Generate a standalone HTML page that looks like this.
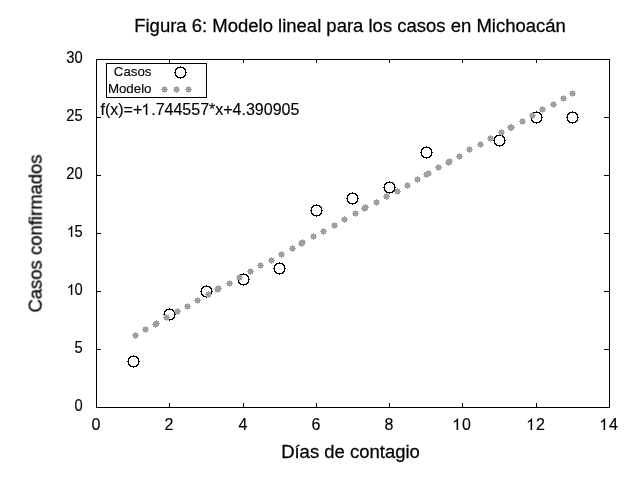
<!DOCTYPE html>
<html><head><meta charset="utf-8"><style>html,body{margin:0;padding:0;background:#fff;overflow:hidden}svg{display:block}text{-webkit-font-smoothing:antialiased}.h{fill-opacity:0;stroke-opacity:0}</style></head>
<body><svg width="640" height="480" viewBox="0 0 640 480">
<rect width="640" height="480" fill="#fff"/>
<g shape-rendering="crispEdges">
<rect x="96.5" y="59.5" width="513" height="348" fill="none" stroke="#000" stroke-width="1"/>
<path d="M96.5 407V403M96.5 59V63M169.5 407V403M169.5 59V63M243.5 407V403M243.5 59V63M316.5 407V403M316.5 59V63M389.5 407V403M389.5 59V63M462.5 407V403M462.5 59V63M536.5 407V403M536.5 59V63M609.5 407V403M609.5 59V63M96 407.5H101M609 407.5H604M96 349.5H101M609 349.5H604M96 291.5H101M609 291.5H604M96 233.5H101M609 233.5H604M96 175.5H101M609 175.5H604M96 117.5H101M609 117.5H604M96 59.5H101M609 59.5H604" stroke="#000" stroke-width="1" fill="none"/>
<rect x="106.5" y="63.5" width="100" height="34" fill="none" stroke="#000" stroke-width="1"/>
<path d="M130 356h7v1h-7zM129 357h2v1h-2zM136 357h2v1h-2zM128 358h2v1h-2zM137 358h2v1h-2zM128 364h2v1h-2zM137 364h2v1h-2zM129 365h2v1h-2zM136 365h2v1h-2zM130 366h7v1h-7zM128 359h1v1h-1zM138 359h1v1h-1zM128 360h1v1h-1zM138 360h1v1h-1zM128 361h1v1h-1zM138 361h1v1h-1zM128 362h1v1h-1zM138 362h1v1h-1zM128 363h1v1h-1zM138 363h1v1h-1zM133 355h1v1h-1zM133 367h1v1h-1zM127 361h1v1h-1zM139 361h1v1h-1zM166 309h7v1h-7zM165 310h2v1h-2zM172 310h2v1h-2zM164 311h2v1h-2zM173 311h2v1h-2zM164 317h2v1h-2zM173 317h2v1h-2zM165 318h2v1h-2zM172 318h2v1h-2zM166 319h7v1h-7zM164 312h1v1h-1zM174 312h1v1h-1zM164 313h1v1h-1zM174 313h1v1h-1zM164 314h1v1h-1zM174 314h1v1h-1zM164 315h1v1h-1zM174 315h1v1h-1zM164 316h1v1h-1zM174 316h1v1h-1zM169 308h1v1h-1zM169 320h1v1h-1zM163 314h1v1h-1zM175 314h1v1h-1zM203 286h7v1h-7zM202 287h2v1h-2zM209 287h2v1h-2zM201 288h2v1h-2zM210 288h2v1h-2zM201 294h2v1h-2zM210 294h2v1h-2zM202 295h2v1h-2zM209 295h2v1h-2zM203 296h7v1h-7zM201 289h1v1h-1zM211 289h1v1h-1zM201 290h1v1h-1zM211 290h1v1h-1zM201 291h1v1h-1zM211 291h1v1h-1zM201 292h1v1h-1zM211 292h1v1h-1zM201 293h1v1h-1zM211 293h1v1h-1zM206 285h1v1h-1zM206 297h1v1h-1zM200 291h1v1h-1zM212 291h1v1h-1zM240 274h7v1h-7zM239 275h2v1h-2zM246 275h2v1h-2zM238 276h2v1h-2zM247 276h2v1h-2zM238 282h2v1h-2zM247 282h2v1h-2zM239 283h2v1h-2zM246 283h2v1h-2zM240 284h7v1h-7zM238 277h1v1h-1zM248 277h1v1h-1zM238 278h1v1h-1zM248 278h1v1h-1zM238 279h1v1h-1zM248 279h1v1h-1zM238 280h1v1h-1zM248 280h1v1h-1zM238 281h1v1h-1zM248 281h1v1h-1zM243 273h1v1h-1zM243 285h1v1h-1zM237 279h1v1h-1zM249 279h1v1h-1zM276 263h7v1h-7zM275 264h2v1h-2zM282 264h2v1h-2zM274 265h2v1h-2zM283 265h2v1h-2zM274 271h2v1h-2zM283 271h2v1h-2zM275 272h2v1h-2zM282 272h2v1h-2zM276 273h7v1h-7zM274 266h1v1h-1zM284 266h1v1h-1zM274 267h1v1h-1zM284 267h1v1h-1zM274 268h1v1h-1zM284 268h1v1h-1zM274 269h1v1h-1zM284 269h1v1h-1zM274 270h1v1h-1zM284 270h1v1h-1zM279 262h1v1h-1zM279 274h1v1h-1zM273 268h1v1h-1zM285 268h1v1h-1zM313 205h7v1h-7zM312 206h2v1h-2zM319 206h2v1h-2zM311 207h2v1h-2zM320 207h2v1h-2zM311 213h2v1h-2zM320 213h2v1h-2zM312 214h2v1h-2zM319 214h2v1h-2zM313 215h7v1h-7zM311 208h1v1h-1zM321 208h1v1h-1zM311 209h1v1h-1zM321 209h1v1h-1zM311 210h1v1h-1zM321 210h1v1h-1zM311 211h1v1h-1zM321 211h1v1h-1zM311 212h1v1h-1zM321 212h1v1h-1zM316 204h1v1h-1zM316 216h1v1h-1zM310 210h1v1h-1zM322 210h1v1h-1zM349 193h7v1h-7zM348 194h2v1h-2zM355 194h2v1h-2zM347 195h2v1h-2zM356 195h2v1h-2zM347 201h2v1h-2zM356 201h2v1h-2zM348 202h2v1h-2zM355 202h2v1h-2zM349 203h7v1h-7zM347 196h1v1h-1zM357 196h1v1h-1zM347 197h1v1h-1zM357 197h1v1h-1zM347 198h1v1h-1zM357 198h1v1h-1zM347 199h1v1h-1zM357 199h1v1h-1zM347 200h1v1h-1zM357 200h1v1h-1zM352 192h1v1h-1zM352 204h1v1h-1zM346 198h1v1h-1zM358 198h1v1h-1zM386 182h7v1h-7zM385 183h2v1h-2zM392 183h2v1h-2zM384 184h2v1h-2zM393 184h2v1h-2zM384 190h2v1h-2zM393 190h2v1h-2zM385 191h2v1h-2zM392 191h2v1h-2zM386 192h7v1h-7zM384 185h1v1h-1zM394 185h1v1h-1zM384 186h1v1h-1zM394 186h1v1h-1zM384 187h1v1h-1zM394 187h1v1h-1zM384 188h1v1h-1zM394 188h1v1h-1zM384 189h1v1h-1zM394 189h1v1h-1zM389 181h1v1h-1zM389 193h1v1h-1zM383 187h1v1h-1zM395 187h1v1h-1zM423 147h7v1h-7zM422 148h2v1h-2zM429 148h2v1h-2zM421 149h2v1h-2zM430 149h2v1h-2zM421 155h2v1h-2zM430 155h2v1h-2zM422 156h2v1h-2zM429 156h2v1h-2zM423 157h7v1h-7zM421 150h1v1h-1zM431 150h1v1h-1zM421 151h1v1h-1zM431 151h1v1h-1zM421 152h1v1h-1zM431 152h1v1h-1zM421 153h1v1h-1zM431 153h1v1h-1zM421 154h1v1h-1zM431 154h1v1h-1zM426 146h1v1h-1zM426 158h1v1h-1zM420 152h1v1h-1zM432 152h1v1h-1zM496 135h7v1h-7zM495 136h2v1h-2zM502 136h2v1h-2zM494 137h2v1h-2zM503 137h2v1h-2zM494 143h2v1h-2zM503 143h2v1h-2zM495 144h2v1h-2zM502 144h2v1h-2zM496 145h7v1h-7zM494 138h1v1h-1zM504 138h1v1h-1zM494 139h1v1h-1zM504 139h1v1h-1zM494 140h1v1h-1zM504 140h1v1h-1zM494 141h1v1h-1zM504 141h1v1h-1zM494 142h1v1h-1zM504 142h1v1h-1zM499 134h1v1h-1zM499 146h1v1h-1zM493 140h1v1h-1zM505 140h1v1h-1zM533 112h7v1h-7zM532 113h2v1h-2zM539 113h2v1h-2zM531 114h2v1h-2zM540 114h2v1h-2zM531 120h2v1h-2zM540 120h2v1h-2zM532 121h2v1h-2zM539 121h2v1h-2zM533 122h7v1h-7zM531 115h1v1h-1zM541 115h1v1h-1zM531 116h1v1h-1zM541 116h1v1h-1zM531 117h1v1h-1zM541 117h1v1h-1zM531 118h1v1h-1zM541 118h1v1h-1zM531 119h1v1h-1zM541 119h1v1h-1zM536 111h1v1h-1zM536 123h1v1h-1zM530 117h1v1h-1zM542 117h1v1h-1zM569 112h7v1h-7zM568 113h2v1h-2zM575 113h2v1h-2zM567 114h2v1h-2zM576 114h2v1h-2zM567 120h2v1h-2zM576 120h2v1h-2zM568 121h2v1h-2zM575 121h2v1h-2zM569 122h7v1h-7zM567 115h1v1h-1zM577 115h1v1h-1zM567 116h1v1h-1zM577 116h1v1h-1zM567 117h1v1h-1zM577 117h1v1h-1zM567 118h1v1h-1zM577 118h1v1h-1zM567 119h1v1h-1zM577 119h1v1h-1zM572 111h1v1h-1zM572 123h1v1h-1zM566 117h1v1h-1zM578 117h1v1h-1zM177 67h7v1h-7zM176 68h2v1h-2zM183 68h2v1h-2zM175 69h2v1h-2zM184 69h2v1h-2zM175 75h2v1h-2zM184 75h2v1h-2zM176 76h2v1h-2zM183 76h2v1h-2zM177 77h7v1h-7zM175 70h1v1h-1zM185 70h1v1h-1zM175 71h1v1h-1zM185 71h1v1h-1zM175 72h1v1h-1zM185 72h1v1h-1zM175 73h1v1h-1zM185 73h1v1h-1zM175 74h1v1h-1zM185 74h1v1h-1zM180 66h1v1h-1zM180 78h1v1h-1zM174 72h1v1h-1zM186 72h1v1h-1z" fill="#000"/>
<path d="M133 333h5v5h-5zM135 332h1v1h-1zM135 338h1v1h-1zM132 335h1v1h-1zM138 335h1v1h-1zM143 327h5v5h-5zM145 326h1v1h-1zM145 332h1v1h-1zM142 329h1v1h-1zM148 329h1v1h-1zM153 322h5v5h-5zM155 321h1v1h-1zM155 327h1v1h-1zM152 324h1v1h-1zM158 324h1v1h-1zM154 321h5v5h-5zM156 320h1v1h-1zM156 326h1v1h-1zM153 323h1v1h-1zM159 323h1v1h-1zM164 315h5v5h-5zM166 314h1v1h-1zM166 320h1v1h-1zM163 317h1v1h-1zM169 317h1v1h-1zM175 309h5v5h-5zM177 308h1v1h-1zM177 314h1v1h-1zM174 311h1v1h-1zM180 311h1v1h-1zM185 304h5v5h-5zM187 303h1v1h-1zM187 309h1v1h-1zM184 306h1v1h-1zM190 306h1v1h-1zM195 298h5v5h-5zM197 297h1v1h-1zM197 303h1v1h-1zM194 300h1v1h-1zM200 300h1v1h-1zM206 292h5v5h-5zM208 291h1v1h-1zM208 297h1v1h-1zM205 294h1v1h-1zM211 294h1v1h-1zM215 287h5v5h-5zM217 286h1v1h-1zM217 292h1v1h-1zM214 289h1v1h-1zM220 289h1v1h-1zM216 286h5v5h-5zM218 285h1v1h-1zM218 291h1v1h-1zM215 288h1v1h-1zM221 288h1v1h-1zM227 281h5v5h-5zM229 280h1v1h-1zM229 286h1v1h-1zM226 283h1v1h-1zM232 283h1v1h-1zM237 275h5v5h-5zM239 274h1v1h-1zM239 280h1v1h-1zM236 277h1v1h-1zM242 277h1v1h-1zM248 269h5v5h-5zM250 268h1v1h-1zM250 274h1v1h-1zM247 271h1v1h-1zM253 271h1v1h-1zM258 263h5v5h-5zM260 262h1v1h-1zM260 268h1v1h-1zM257 265h1v1h-1zM263 265h1v1h-1zM269 258h5v5h-5zM271 257h1v1h-1zM271 263h1v1h-1zM268 260h1v1h-1zM274 260h1v1h-1zM279 252h5v5h-5zM281 251h1v1h-1zM281 257h1v1h-1zM278 254h1v1h-1zM284 254h1v1h-1zM290 246h5v5h-5zM292 245h1v1h-1zM292 251h1v1h-1zM289 248h1v1h-1zM295 248h1v1h-1zM299 241h5v5h-5zM301 240h1v1h-1zM301 246h1v1h-1zM298 243h1v1h-1zM304 243h1v1h-1zM300 240h5v5h-5zM302 239h1v1h-1zM302 245h1v1h-1zM299 242h1v1h-1zM305 242h1v1h-1zM311 234h5v5h-5zM313 233h1v1h-1zM313 239h1v1h-1zM310 236h1v1h-1zM316 236h1v1h-1zM321 229h5v5h-5zM323 228h1v1h-1zM323 234h1v1h-1zM320 231h1v1h-1zM326 231h1v1h-1zM332 223h5v5h-5zM334 222h1v1h-1zM334 228h1v1h-1zM331 225h1v1h-1zM337 225h1v1h-1zM342 217h5v5h-5zM344 216h1v1h-1zM344 222h1v1h-1zM341 219h1v1h-1zM347 219h1v1h-1zM353 211h5v5h-5zM355 210h1v1h-1zM355 216h1v1h-1zM352 213h1v1h-1zM358 213h1v1h-1zM362 206h5v5h-5zM364 205h1v1h-1zM364 211h1v1h-1zM361 208h1v1h-1zM367 208h1v1h-1zM363 205h5v5h-5zM365 204h1v1h-1zM365 210h1v1h-1zM362 207h1v1h-1zM368 207h1v1h-1zM374 200h5v5h-5zM376 199h1v1h-1zM376 205h1v1h-1zM373 202h1v1h-1zM379 202h1v1h-1zM384 194h5v5h-5zM386 193h1v1h-1zM386 199h1v1h-1zM383 196h1v1h-1zM389 196h1v1h-1zM395 189h5v5h-5zM397 188h1v1h-1zM397 194h1v1h-1zM394 191h1v1h-1zM400 191h1v1h-1zM405 183h5v5h-5zM407 182h1v1h-1zM407 188h1v1h-1zM404 185h1v1h-1zM410 185h1v1h-1zM415 177h5v5h-5zM417 176h1v1h-1zM417 182h1v1h-1zM414 179h1v1h-1zM420 179h1v1h-1zM424 172h5v5h-5zM426 171h1v1h-1zM426 177h1v1h-1zM423 174h1v1h-1zM429 174h1v1h-1zM426 171h5v5h-5zM428 170h1v1h-1zM428 176h1v1h-1zM425 173h1v1h-1zM431 173h1v1h-1zM436 165h5v5h-5zM438 164h1v1h-1zM438 170h1v1h-1zM435 167h1v1h-1zM441 167h1v1h-1zM446 160h5v5h-5zM448 159h1v1h-1zM448 165h1v1h-1zM445 162h1v1h-1zM451 162h1v1h-1zM447 159h5v5h-5zM449 158h1v1h-1zM449 164h1v1h-1zM446 161h1v1h-1zM452 161h1v1h-1zM457 154h5v5h-5zM459 153h1v1h-1zM459 159h1v1h-1zM456 156h1v1h-1zM462 156h1v1h-1zM467 147h5v5h-5zM469 146h1v1h-1zM469 152h1v1h-1zM466 149h1v1h-1zM472 149h1v1h-1zM478 142h5v5h-5zM480 141h1v1h-1zM480 147h1v1h-1zM477 144h1v1h-1zM483 144h1v1h-1zM488 136h5v5h-5zM490 135h1v1h-1zM490 141h1v1h-1zM487 138h1v1h-1zM493 138h1v1h-1zM499 130h5v5h-5zM501 129h1v1h-1zM501 135h1v1h-1zM498 132h1v1h-1zM504 132h1v1h-1zM508 125h5v5h-5zM510 124h1v1h-1zM510 130h1v1h-1zM507 127h1v1h-1zM513 127h1v1h-1zM509 125h5v5h-5zM511 124h1v1h-1zM511 130h1v1h-1zM508 127h1v1h-1zM514 127h1v1h-1zM520 119h5v5h-5zM522 118h1v1h-1zM522 124h1v1h-1zM519 121h1v1h-1zM525 121h1v1h-1zM530 113h5v5h-5zM532 112h1v1h-1zM532 118h1v1h-1zM529 115h1v1h-1zM535 115h1v1h-1zM540 107h5v5h-5zM542 106h1v1h-1zM542 112h1v1h-1zM539 109h1v1h-1zM545 109h1v1h-1zM551 102h5v5h-5zM553 101h1v1h-1zM553 107h1v1h-1zM550 104h1v1h-1zM556 104h1v1h-1zM561 96h5v5h-5zM563 95h1v1h-1zM563 101h1v1h-1zM560 98h1v1h-1zM566 98h1v1h-1zM570 91h5v5h-5zM572 90h1v1h-1zM572 96h1v1h-1zM569 93h1v1h-1zM575 93h1v1h-1zM162 87h5v5h-5zM164 86h1v1h-1zM164 92h1v1h-1zM161 89h1v1h-1zM167 89h1v1h-1zM174 87h5v5h-5zM176 86h1v1h-1zM176 92h1v1h-1zM173 89h1v1h-1zM179 89h1v1h-1zM186 87h5v5h-5zM188 86h1v1h-1zM188 92h1v1h-1zM185 89h1v1h-1zM191 89h1v1h-1z" fill="#a0a0a0"/>
</g>
<g fill="#000" stroke="#000" stroke-width="0.15" style="will-change:transform;opacity:0.999">
<g transform="translate(82.6,411) scale(0.95,1.02)"><text x="0" y="0" text-anchor="end" font-family="&quot;Liberation Sans&quot;, sans-serif" font-size="15.5">0</text></g>
<g transform="translate(82.6,353) scale(0.95,1.02)"><text x="0" y="0" text-anchor="end" font-family="&quot;Liberation Sans&quot;, sans-serif" font-size="15.5">5</text></g>
<g transform="translate(82.6,295) scale(0.95,1.02)"><text x="0" y="0" text-anchor="end" font-family="&quot;Liberation Sans&quot;, sans-serif" font-size="15.5"><tspan class="h">1</tspan>0</text><path transform="translate(-16.714,0.000) scale(0.007568,-0.007568)" d="M773 0L573 0L573 1100Q508 1040 402 980Q296 920 222 890L222 1064Q373 1134 486 1232Q599 1330 646 1419L773 1419Z"/></g>
<g transform="translate(82.6,237) scale(0.95,1.02)"><text x="0" y="0" text-anchor="end" font-family="&quot;Liberation Sans&quot;, sans-serif" font-size="15.5"><tspan class="h">1</tspan>5</text><path transform="translate(-16.714,0.000) scale(0.007568,-0.007568)" d="M773 0L573 0L573 1100Q508 1040 402 980Q296 920 222 890L222 1064Q373 1134 486 1232Q599 1330 646 1419L773 1419Z"/></g>
<g transform="translate(82.6,179) scale(0.95,1.02)"><text x="0" y="0" text-anchor="end" font-family="&quot;Liberation Sans&quot;, sans-serif" font-size="15.5">20</text></g>
<g transform="translate(82.6,121) scale(0.95,1.02)"><text x="0" y="0" text-anchor="end" font-family="&quot;Liberation Sans&quot;, sans-serif" font-size="15.5">25</text></g>
<g transform="translate(82.6,63) scale(0.95,1.02)"><text x="0" y="0" text-anchor="end" font-family="&quot;Liberation Sans&quot;, sans-serif" font-size="15.5">30</text></g>
<text x="96" y="430" text-anchor="middle" font-family="&quot;Liberation Sans&quot;, sans-serif" font-size="16">0</text>
<text x="169" y="430" text-anchor="middle" font-family="&quot;Liberation Sans&quot;, sans-serif" font-size="16">2</text>
<text x="243" y="430" text-anchor="middle" font-family="&quot;Liberation Sans&quot;, sans-serif" font-size="16">4</text>
<text x="316" y="430" text-anchor="middle" font-family="&quot;Liberation Sans&quot;, sans-serif" font-size="16">6</text>
<text x="389" y="430" text-anchor="middle" font-family="&quot;Liberation Sans&quot;, sans-serif" font-size="16">8</text>
<text x="462" y="430" text-anchor="middle" font-family="&quot;Liberation Sans&quot;, sans-serif" font-size="16"><tspan class="h">1</tspan>0</text>
<path transform="translate(452.102,430.000) scale(0.007812,-0.008125)" d="M773 0L573 0L573 1100Q508 1040 402 980Q296 920 222 890L222 1064Q373 1134 486 1232Q599 1330 646 1419L773 1419Z"/>
<text x="536" y="430" text-anchor="middle" font-family="&quot;Liberation Sans&quot;, sans-serif" font-size="16"><tspan class="h">1</tspan>2</text>
<path transform="translate(526.102,430.000) scale(0.007812,-0.008125)" d="M773 0L573 0L573 1100Q508 1040 402 980Q296 920 222 890L222 1064Q373 1134 486 1232Q599 1330 646 1419L773 1419Z"/>
<text x="609" y="430" text-anchor="middle" font-family="&quot;Liberation Sans&quot;, sans-serif" font-size="16"><tspan class="h">1</tspan>4</text>
<path transform="translate(599.102,430.000) scale(0.007812,-0.008125)" d="M773 0L573 0L573 1100Q508 1040 402 980Q296 920 222 890L222 1064Q373 1134 486 1232Q599 1330 646 1419L773 1419Z"/>
<text transform="translate(350,32) scale(1,1.02)" text-anchor="middle" font-family="&quot;Liberation Sans&quot;, sans-serif" font-size="18.5" stroke-width="0.25">Figura 6: Modelo lineal para los casos en Michoacán</text>
<text transform="translate(350.5,457.5) scale(1,1.02)" text-anchor="middle" font-family="&quot;Liberation Sans&quot;, sans-serif" font-size="18.5" stroke-width="0.25">Días de contagio</text>
<text transform="translate(42,233.5) rotate(-90) scale(1,1.02)" text-anchor="middle" font-family="&quot;Liberation Sans&quot;, sans-serif" font-size="18.5" stroke-width="0.25">Casos confirmados</text>
<text x="151.5" y="76" text-anchor="end" font-family="&quot;Liberation Sans&quot;, sans-serif" font-size="13.3">Casos</text>
<text x="151.5" y="93" text-anchor="end" font-family="&quot;Liberation Sans&quot;, sans-serif" font-size="13.3">Modelo</text>
<text x="100.5" y="115" font-family="&quot;Liberation Sans&quot;, sans-serif" font-size="16">f(x)=+<tspan class="h">1</tspan>.744557*x+4.390905</text>
<path transform="translate(141.297,115.000) scale(0.007812,-0.008125)" d="M773 0L573 0L573 1100Q508 1040 402 980Q296 920 222 890L222 1064Q373 1134 486 1232Q599 1330 646 1419L773 1419Z"/>
</g>
</svg></body></html>
